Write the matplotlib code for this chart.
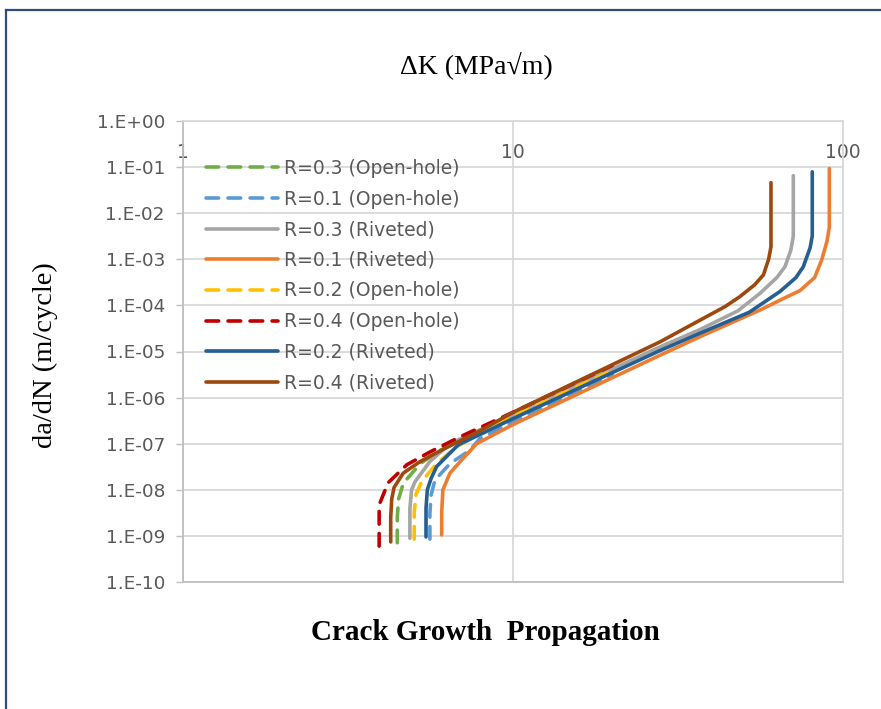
import matplotlib
matplotlib.use("Agg")
import matplotlib.pyplot as plt
from matplotlib.lines import Line2D

# Delta K (MPa sqrt m) and da/dN (m/cycle)
dk_r03_oh = [4.46, 4.46, 4.5, 4.65, 5.23, 6.0, 7.94, 10, 20]
da_r03_oh = [7.1e-10, 2.5e-9, 6.3e-9, 1.38e-8, 3.7e-8, 7.1e-8, 1.9e-7, 4.5e-7, 4.6e-6]

dk_r01_oh = [5.6, 5.6, 5.65, 5.8, 6.44, 7.4, 7.94, 10, 20]
da_r01_oh = [8.5e-10, 3.2e-9, 7.9e-9, 1.62e-8, 3.7e-8, 7.2e-8, 1.3e-7, 3.0e-7, 3.1e-6]

dk_r03_riv = [4.87, 4.87, 4.93, 5.05, 5.6, 6.44, 7.94, 10, 27.9, 36.9, 48, 56, 63, 66.7, 69.5, 70.7, 70.7]
da_r03_riv = [8.9e-10, 4.0e-9, 1.0e-8, 1.51e-8, 4.1e-8, 1.0e-7, 2.0e-7, 4.2e-7, 1.26e-5, 3.0e-5,
              7.6e-5, 1.82e-4, 4.0e-4, 6.9e-4, 1.58e-3, 3.2e-3, 0.065]

dk_r01_riv = [6.08, 6.08, 6.13, 6.3, 6.44, 6.9, 7.76, 10, 27.9, 36.9, 56, 66, 74.1, 82, 86.1, 89.5, 90.9, 90.9]
da_r01_riv = [1.05e-9, 3.2e-9, 1.0e-8, 1.58e-8, 2.3e-8, 4.0e-8, 1.0e-7, 2.6e-7, 8.3e-6, 2.1e-5,
              7.9e-5, 1.41e-4, 2.1e-4, 4.0e-4, 9.5e-4, 2.5e-3, 5.0e-3, 0.093]

dk_r02_oh = [5.02, 5.02, 5.08, 5.29, 5.87, 6.74, 7.94, 10, 20]
da_r02_oh = [8.5e-10, 3.2e-9, 7.9e-9, 1.51e-8, 3.7e-8, 8.5e-8, 1.66e-7, 3.9e-7, 3.9e-6]

dk_r04_oh = [3.93, 3.93, 3.93, 4.18, 4.77, 5.6, 6.91, 10, 20]
da_r04_oh = [6.0e-10, 1.26e-9, 4.7e-9, 1.41e-8, 3.5e-8, 6.6e-8, 1.41e-7, 4.8e-7, 5.0e-6]

dk_r02_riv = [5.45, 5.45, 5.5, 5.65, 5.87, 6.83, 7.94, 10, 27.9, 36.9, 52, 64.4, 72, 75.8, 79.5, 80.7, 80.7]
da_r02_riv = [9.5e-10, 4.0e-9, 1.0e-8, 1.78e-8, 3.2e-8, 9.5e-8, 1.58e-7, 3.5e-7, 1.05e-5, 2.5e-5,
              7.1e-5, 2.0e-4, 4.0e-4, 6.9e-4, 1.78e-3, 3.2e-3, 0.079]

dk_r04_riv = [4.26, 4.26, 4.29, 4.36, 4.65, 5.23, 6.15, 7.94, 10, 27.9, 36.9, 44, 48.7, 54, 57.4, 59.5, 60.5, 60.5]
da_r04_riv = [7.4e-10, 2.5e-9, 6.3e-9, 1.12e-8, 2.3e-8, 4.1e-8, 7.6e-8, 1.9e-7, 4.8e-7, 1.62e-5, 4.8e-5,
              9.5e-5, 1.55e-4, 2.8e-4, 4.6e-4, 1.0e-3, 1.86e-3, 0.046]

y_ticks = [1e-10, 1e-9, 1e-8, 1e-7, 1e-6, 1e-5, 1e-4, 1e-3, 1e-2, 1e-1, 1e0]
y_labels = ["1.E-10", "1.E-09", "1.E-08", "1.E-07", "1.E-06", "1.E-05",
            "1.E-04", "1.E-03", "1.E-02", "1.E-01", "1.E+00"]
x_ticks = [1, 10, 100]
x_labels = ["1", "10", "100"]

dash = (0, (3.5, 2.6))
series = [
    (dk_r03_oh, da_r03_oh, "R=0.3 (Open-hole)", "#70AD47", dash),
    (dk_r01_oh, da_r01_oh, "R=0.1 (Open-hole)", "#5B9BD5", dash),
    (dk_r03_riv, da_r03_riv, "R=0.3 (Riveted)", "#A5A5A5", "-"),
    (dk_r01_riv, da_r01_riv, "R=0.1 (Riveted)", "#ED7D31", "-"),
    (dk_r02_oh, da_r02_oh, "R=0.2 (Open-hole)", "#FFC000", dash),
    (dk_r04_oh, da_r04_oh, "R=0.4 (Open-hole)", "#C00000", dash),
    (dk_r02_riv, da_r02_riv, "R=0.2 (Riveted)", "#255E91", "-"),
    (dk_r04_riv, da_r04_riv, "R=0.4 (Riveted)", "#9E480E", "-"),
]

tick_font = "DejaVu Sans"
grey_txt = "#595959"
grid_col = "#D9D9D9"

fig = plt.figure(figsize=(8.81, 7.09), dpi=100)
ax = fig.add_axes([183 / 881, 1 - 582 / 709, 660 / 881, 461 / 709])

for dk, da, lab, col, ls in series:
    ax.plot(dk, da, color=col, linestyle=ls, linewidth=2.6, label=lab,
            solid_capstyle="round", dash_capstyle="round")

ax.set_xscale("log")
ax.set_yscale("log")
ax.set_xlim(1, 100)
ax.set_ylim(1e-10, 1)

ax.set_yticks(y_ticks)
ax.set_yticklabels(y_labels, fontfamily=tick_font, fontsize=13.3, color=grey_txt)
ax.set_xticks(x_ticks)
ax.set_xticklabels(x_labels, fontfamily=tick_font, fontsize=13.5, color=grey_txt)
ax.minorticks_off()

ax.tick_params(axis="y", length=5, width=1, color="#BFBFBF", pad=8)
ax.tick_params(axis="x", top=True, bottom=False, labeltop=True, labelbottom=False,
               length=0, pad=-29.5)

ax.grid(True, color=grid_col, linewidth=1.3)
ax.set_axisbelow(True)
for side in ["top", "right"]:
    ax.spines[side].set_color(grid_col)
    ax.spines[side].set_linewidth(1.3)
for side in ["left", "bottom"]:
    ax.spines[side].set_color("#BFBFBF")
    ax.spines[side].set_linewidth(1.3)

leg = ax.legend(loc="upper left", bbox_to_anchor=(206 / 881, 1 - 159 / 709),
                bbox_transform=fig.transFigure, frameon=False,
                prop={"family": tick_font, "size": 13.5}, labelcolor=grey_txt,
                handlelength=3.85, handletextpad=0.32, labelspacing=0.62,
                borderpad=0, borderaxespad=0)

fig.text(476 / 881, 1 - 65 / 709, "ΔK (MPa√m)", ha="center", va="center",
         fontfamily="Liberation Serif", fontsize=20)
fig.text(45 / 881, 1 - 355 / 709, "da/dN (m/cycle)", ha="center", va="center",
         rotation=90, fontfamily="Liberation Serif", fontsize=20.5)
fig.text(485 / 881, 1 - 633 / 709, "Crack Growth  Propagation", ha="center", va="center",
         fontfamily="Liberation Serif", fontsize=21, fontweight="bold")

# dark frame round the chart
frame_col = "#2F4D80"
fig.add_artist(Line2D([6 / 881, 6 / 881], [0, 1 - 10 / 709], color=frame_col, linewidth=1.6))
fig.add_artist(Line2D([6 / 881, 1], [1 - 10 / 709, 1 - 10 / 709], color=frame_col, linewidth=1.6))

fig.savefig("out.png", dpi=100)
